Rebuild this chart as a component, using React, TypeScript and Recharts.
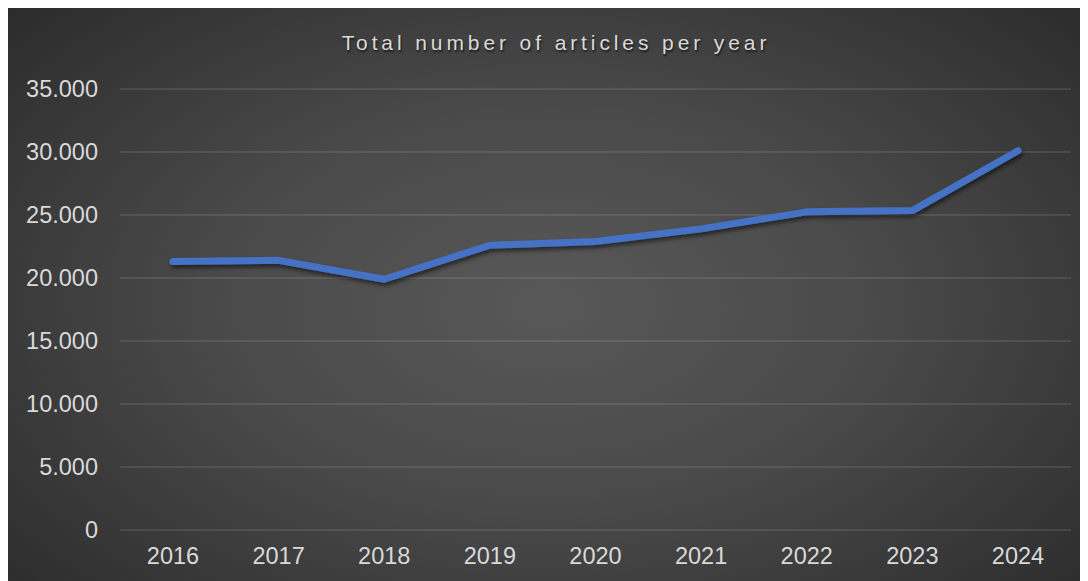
import React from "react";
import { LineChart, Line, XAxis, YAxis, CartesianGrid } from "recharts";

const years = ["2016", "2017", "2018", "2019", "2020", "2021", "2022", "2023", "2024"];
const articles = [21300, 21400, 19900, 22600, 22900, 23900, 25250, 25350, 30100];
const yTicks = [0, 5000, 10000, 15000, 20000, 25000, 30000, 35000];
const title = "Total number of articles per year";

const data = years.map((y, i) => ({ year: y, articles: articles[i] }));

const fmt = (v: number) => v.toString().replace(/\B(?=(\d{3})+(?!\d))/g, ".");

const W = 1080;
const H = 573;

export default function App() {
  return (
    <div
      style={{
        position: "relative",
        width: W,
        height: H,
        background: "radial-gradient(ellipse 75% 85% at 50% 52%, #585858 0%, #4a4a4a 40%, #262626 100%)",
        fontFamily: "'Liberation Sans', Arial, sans-serif",
      }}
    >
      <div
        style={{
          position: "absolute",
          top: 23,
          left: 8,
          width: W,
          textAlign: "center",
          color: "#d9d9d9",
          fontSize: 21,
          letterSpacing: 3.9,
          textShadow: "1px 2px 2px rgba(0,0,0,0.6)",
        }}
      >
        {title}
      </div>
      <LineChart
        width={W}
        height={H}
        data={data}
        margin={{ top: 81, right: 17, left: 0, bottom: 0 }}
        style={{ position: "absolute", top: 0, left: 0 }}
      >
        <defs>
          <filter id="shadow" x="-10%" y="-50%" width="120%" height="200%">
            <feDropShadow dx="1.5" dy="3" stdDeviation="2" floodColor="#000" floodOpacity="0.55" />
          </filter>
        </defs>
        <CartesianGrid vertical={false} stroke="rgba(255,255,255,0.13)" strokeWidth={1.5} />
        <XAxis
          dataKey="year"
          height={51}
          axisLine={false}
          tickLine={false}
          tickSize={0}
          tickMargin={17}
          padding={{ left: 53, right: 53 }}
          tick={{ fill: "#d9d9d9", fontSize: 23.5 }}
          interval={0}
        />
        <YAxis
          width={112}
          domain={[0, 35000]}
          ticks={yTicks}
          tickFormatter={fmt}
          axisLine={false}
          tickLine={false}
          tickSize={0}
          tickMargin={22}
          tick={{ fill: "#d9d9d9", fontSize: 23.5 }}
          interval={0}
        />
        <Line
          type="linear"
          dataKey="articles"
          stroke="#4472C4"
          strokeWidth={7}
          strokeLinecap="round"
          strokeLinejoin="round"
          dot={false}
          activeDot={false}
          filter="url(#shadow)"
          isAnimationActive={false}
        />
      </LineChart>
    </div>
  );
}
